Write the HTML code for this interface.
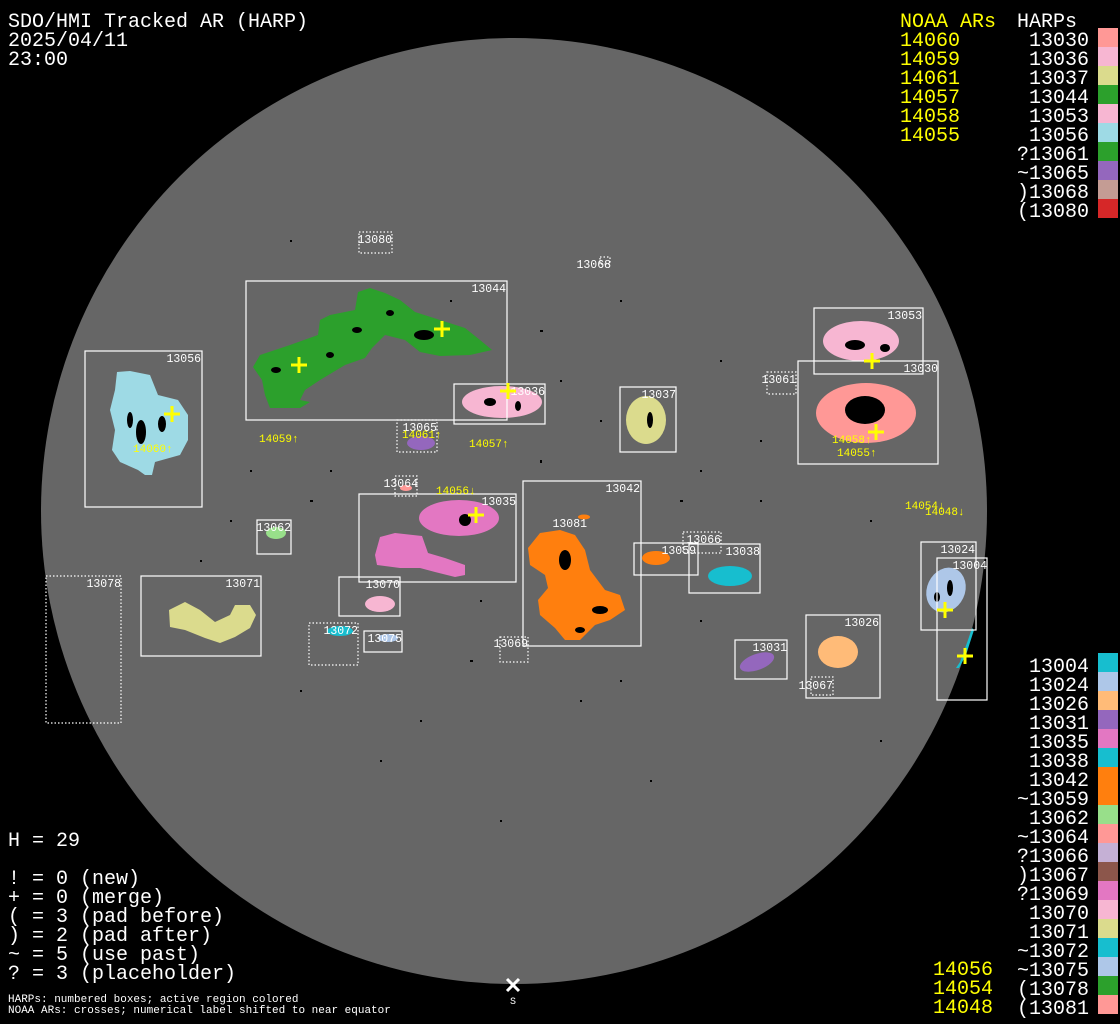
<!DOCTYPE html>
<html><head><meta charset="utf-8"><style>
html,body{margin:0;padding:0;background:#000;width:1120px;height:1024px;overflow:hidden}
svg{display:block}
text{font-family:"Liberation Mono","DejaVu Sans Mono",monospace}
.t{fill:#fff;font-size:20px}
.y{fill:#ffff00;font-size:20px}
.b{fill:#fff;font-size:11.5px}
.n{fill:#ffff00;font-size:11px}
.bx{fill:none;stroke:#fff;stroke-width:1.2}
.dx{fill:none;stroke:#fff;stroke-width:1.2;stroke-dasharray:1.5 2}
.cr{stroke:#ffff00;stroke-width:3}
</style></head><body>
<svg width="1120" height="1024" viewBox="0 0 1120 1024" xmlns="http://www.w3.org/2000/svg">
<rect width="1120" height="1024" fill="#000"/>
<circle cx="514" cy="511" r="473" fill="#666"/>

<!-- speckles -->
<g fill="#000">
<rect x="290" y="240" width="2" height="2"/><rect x="450" y="300" width="2" height="2"/><rect x="600" y="420" width="2" height="2"/>
<rect x="700" y="470" width="2" height="2"/><rect x="330" y="470" width="2" height="2"/><rect x="250" y="470" width="2" height="2"/>
<rect x="480" y="600" width="2" height="2"/><rect x="580" y="700" width="2" height="2"/><rect x="420" y="720" width="2" height="2"/>
<rect x="700" y="620" width="2" height="2"/><rect x="760" y="500" width="2" height="2"/><rect x="620" y="300" width="2" height="2"/>
<rect x="560" y="380" width="2" height="2"/><rect x="200" y="560" width="2" height="2"/><rect x="300" y="690" width="2" height="2"/>
<rect x="650" y="780" width="2" height="2"/><rect x="500" y="820" width="2" height="2"/><rect x="380" y="760" width="2" height="2"/>
<rect x="870" y="520" width="2" height="2"/><rect x="880" y="740" width="2" height="2"/>
<rect x="680" y="500" width="3" height="2"/><rect x="540" y="460" width="2" height="3"/><rect x="310" y="500" width="3" height="2"/>
<rect x="230" y="520" width="2" height="2"/><rect x="470" y="660" width="3" height="2"/><rect x="620" y="680" width="2" height="2"/>
<rect x="760" y="440" width="2" height="2"/><rect x="720" y="360" width="2" height="2"/><rect x="540" y="330" width="3" height="2"/>
</g>

<!-- ARs -->
<path d="M253,367 L260,355 290,345 318,335 320,320 330,315 355,310 358,292 370,288 385,293 400,300 415,312 440,320 465,328 480,340 492,350 470,355 440,356 420,352 405,340 385,335 372,348 365,358 345,365 320,380 305,390 300,400 310,402 300,408 270,408 265,395 262,380Z" fill="#2ca02c"/>
<path d="M117,372 L130,371 150,375 158,395 178,400 188,415 188,440 180,455 155,462 152,475 145,475 138,470 120,462 112,450 115,430 110,410 115,390Z" fill="#9edae5"/>
<ellipse cx="502" cy="402" rx="40" ry="16" fill="#f7b6d2"/>
<ellipse cx="421" cy="443" rx="14" ry="7" fill="#9467bd"/>
<ellipse cx="406" cy="488" rx="6" ry="3" fill="#ff9896"/>
<ellipse cx="459" cy="518" rx="40" ry="18" fill="#e377c2"/>
<path d="M380,537 L395,533 422,536 428,553 445,558 465,565 465,575 455,577 435,572 420,568 400,568 377,565 375,555Z" fill="#e377c2"/>
<ellipse cx="276" cy="533" rx="10" ry="6" fill="#98df8a"/>
<path d="M169,610 L185,602 200,610 215,622 230,615 235,605 250,605 256,615 250,628 235,637 220,643 205,638 185,630 170,627Z" fill="#dbdb8d"/>
<ellipse cx="380" cy="604" rx="15" ry="8" fill="#f7b6d2"/>
<ellipse cx="340" cy="631" rx="13" ry="5" fill="#17becf"/>
<ellipse cx="388" cy="638" rx="10" ry="4" fill="#aec7e8"/>
<path d="M528,548 L540,533 560,530 575,535 585,550 590,570 605,590 620,595 625,610 610,620 595,625 580,640 565,640 555,628 540,615 538,600 548,588 545,575 530,565Z" fill="#ff7f0e"/>
<ellipse cx="584" cy="517" rx="6" ry="2.5" fill="#ff7f0e"/>
<ellipse cx="656" cy="558" rx="14" ry="7" fill="#ff7f0e"/>
<ellipse cx="730" cy="576" rx="22" ry="10" fill="#17becf"/>
<ellipse cx="646" cy="420" rx="20" ry="24" fill="#dbdb8d"/>
<ellipse cx="861" cy="341" rx="38" ry="20" fill="#f7b6d2"/>
<ellipse cx="866" cy="413" rx="50" ry="30" fill="#ff9896"/>
<ellipse cx="757" cy="662" rx="18" ry="8" transform="rotate(-20 757 662)" fill="#9467bd"/>
<ellipse cx="838" cy="652" rx="20" ry="16" fill="#ffbb78"/>
<ellipse cx="946" cy="590" rx="19" ry="23" transform="rotate(25 946 590)" fill="#aec7e8"/>
<path d="M956,668 L960,662 968,640 972,628 974,630 966,655 959,668Z" fill="#17becf"/>

<!-- black spots in ARs -->
<g fill="#000">
<ellipse cx="141" cy="432" rx="5" ry="12"/><ellipse cx="162" cy="424" rx="4" ry="8"/><ellipse cx="130" cy="420" rx="3" ry="8"/>
<ellipse cx="424" cy="335" rx="10" ry="5"/><ellipse cx="276" cy="370" rx="5" ry="3"/><ellipse cx="330" cy="355" rx="4" ry="3"/>
<ellipse cx="357" cy="330" rx="5" ry="3"/><ellipse cx="390" cy="313" rx="4" ry="3"/>
<ellipse cx="490" cy="402" rx="6" ry="4"/><ellipse cx="518" cy="406" rx="3" ry="5"/>
<circle cx="465" cy="520" r="6"/>
<ellipse cx="865" cy="410" rx="20" ry="14"/><ellipse cx="855" cy="345" rx="10" ry="5"/><ellipse cx="885" cy="348" rx="5" ry="4"/>
<ellipse cx="565" cy="560" rx="6" ry="10"/><ellipse cx="600" cy="610" rx="8" ry="4"/><ellipse cx="580" cy="630" rx="5" ry="3"/>
<ellipse cx="950" cy="588" rx="3" ry="8"/><ellipse cx="937" cy="597" rx="3" ry="5"/>
<ellipse cx="650" cy="420" rx="3" ry="8"/>
</g>

<!-- boxes -->
<rect class="bx" x="246" y="281" width="261" height="139"/>
<rect class="bx" x="85" y="351" width="117" height="156"/>
<rect class="bx" x="454" y="384" width="91" height="40"/>
<rect class="dx" x="397" y="420" width="40" height="32"/>
<rect class="dx" x="395" y="476" width="22" height="20"/>
<rect class="bx" x="359" y="494" width="157" height="88"/>
<rect class="bx" x="257" y="520" width="34" height="34"/>
<rect class="dx" x="46" y="576" width="75" height="147"/>
<rect class="bx" x="141" y="576" width="120" height="80"/>
<rect class="bx" x="339" y="577" width="61" height="39"/>
<rect class="dx" x="309" y="623" width="49" height="42"/>
<rect class="bx" x="364" y="631" width="38" height="21"/>
<rect class="dx" x="500" y="637" width="28" height="25"/>
<rect class="bx" x="523" y="481" width="118" height="165"/>
<rect class="bx" x="620" y="387" width="56" height="65"/>
<rect class="bx" x="814" y="308" width="109" height="66"/>
<rect class="bx" x="798" y="361" width="140" height="103"/>
<rect class="dx" x="767" y="372" width="29" height="22"/>
<rect class="bx" x="634" y="543" width="64" height="32"/>
<rect class="dx" x="683" y="532" width="38" height="21"/>
<rect class="bx" x="689" y="544" width="71" height="49"/>
<rect class="bx" x="735" y="640" width="52" height="39"/>
<rect class="bx" x="806" y="615" width="74" height="83"/>
<rect class="dx" x="811" y="677" width="22" height="18"/>
<rect class="bx" x="921" y="542" width="55" height="88"/>
<rect class="bx" x="937" y="558" width="50" height="142"/>
<rect class="dx" x="359" y="232" width="33" height="21"/>
<rect class="dx" x="600" y="257" width="10" height="7"/>

<!-- box labels -->
<g class="b" text-anchor="end">
<text x="506" y="292">13044</text><text x="201" y="362">13056</text><text x="545" y="395">13036</text>
<text x="437" y="431">13065</text><text x="418" y="487">13064</text><text x="516" y="505">13035</text>
<text x="291" y="531">13062</text><text x="121" y="587">13078</text><text x="260" y="587">13071</text>
<text x="400" y="588">13070</text><text x="358" y="634">13072</text><text x="402" y="642">13075</text>
<text x="528" y="647">13069</text><text x="640" y="492">13042</text><text x="676" y="398">13037</text>
<text x="922" y="319">13053</text><text x="938" y="372">13030</text><text x="796" y="383">13061</text>
<text x="696" y="554">13059</text><text x="721" y="543">13066</text><text x="760" y="555">13038</text>
<text x="787" y="651">13031</text><text x="879" y="626">13026</text><text x="833" y="689">13067</text>
<text x="975" y="553">13024</text><text x="987" y="569">13004</text><text x="392" y="243">13080</text>
<text x="611" y="268">13068</text><text x="587" y="527">13081</text>
</g>

<!-- NOAA labels -->
<g class="n">
<text x="259" y="442">14059↑</text><text x="133" y="452">14060↑</text><text x="402" y="438">14061↑</text>
<text x="469" y="447">14057↑</text><text x="436" y="494">14056↓</text><text x="832" y="443">14058↑</text>
<text x="837" y="456">14055↑</text><text x="905" y="509">14054↓</text><text x="925" y="515">14048↓</text>
</g>

<!-- crosses -->
<g class="cr">
<path d="M291,365h16M299,357v16"/><path d="M434,329h16M442,321v16"/><path d="M164,414h16M172,406v16"/>
<path d="M500,391h16M508,383v16"/><path d="M468,515h16M476,507v16"/><path d="M864,361h16M872,353v16"/>
<path d="M868,432h16M876,424v16"/><path d="M937,610h16M945,602v16"/><path d="M957,656h16M965,648v16"/>
</g>

<!-- S marker -->
<path d="M507,979l12,12M519,979l-12,12" stroke="#fff" stroke-width="3"/>
<text x="513" y="1004" class="b" text-anchor="middle" style="font-size:10px">S</text>

<!-- title -->
<text class="t" x="8" y="27">SDO/HMI Tracked AR (HARP)</text>
<text class="t" x="8" y="46">2025/04/11</text>
<text class="t" x="8" y="65">23:00</text>

<!-- top right legend -->
<text class="y" x="900" y="27">NOAA ARs</text>
<text class="t" x="1017" y="27">HARPs</text>
<g class="y"><text x="900" y="46">14060</text><text x="900" y="65">14059</text><text x="900" y="84">14061</text><text x="900" y="103">14057</text><text x="900" y="122">14058</text><text x="900" y="141">14055</text></g>
<g class="t" text-anchor="end">
<text x="1089" y="46">13030</text><text x="1089" y="65">13036</text><text x="1089" y="84">13037</text><text x="1089" y="103">13044</text><text x="1089" y="122">13053</text><text x="1089" y="141">13056</text><text x="1089" y="160">?13061</text><text x="1089" y="179">~13065</text><text x="1089" y="198">)13068</text><text x="1089" y="217">(13080</text>
</g>
<g>
<rect x="1098" y="28" width="20" height="19" fill="#ff9896"/><rect x="1098" y="47" width="20" height="19" fill="#f7b6d2"/><rect x="1098" y="66" width="20" height="19" fill="#dbdb8d"/><rect x="1098" y="85" width="20" height="19" fill="#2ca02c"/><rect x="1098" y="104" width="20" height="19" fill="#f7b6d2"/><rect x="1098" y="123" width="20" height="19" fill="#9edae5"/><rect x="1098" y="142" width="20" height="19" fill="#2ca02c"/><rect x="1098" y="161" width="20" height="19" fill="#9467bd"/><rect x="1098" y="180" width="20" height="19" fill="#c49c94"/><rect x="1098" y="199" width="20" height="19" fill="#d62728"/>
</g>

<!-- bottom right legend -->
<g class="t" text-anchor="end">
<text x="1089" y="672">13004</text><text x="1089" y="691">13024</text><text x="1089" y="710">13026</text><text x="1089" y="729">13031</text><text x="1089" y="748">13035</text><text x="1089" y="767">13038</text><text x="1089" y="786">13042</text><text x="1089" y="805">~13059</text><text x="1089" y="824">13062</text><text x="1089" y="843">~13064</text><text x="1089" y="862">?13066</text><text x="1089" y="881">)13067</text><text x="1089" y="900">?13069</text><text x="1089" y="919">13070</text><text x="1089" y="938">13071</text><text x="1089" y="957">~13072</text><text x="1089" y="976">~13075</text><text x="1089" y="995">(13078</text><text x="1089" y="1014">(13081</text>
</g>
<g>
<rect x="1098" y="653" width="20" height="19" fill="#17becf"/><rect x="1098" y="672" width="20" height="19" fill="#aec7e8"/><rect x="1098" y="691" width="20" height="19" fill="#ffbb78"/><rect x="1098" y="710" width="20" height="19" fill="#9467bd"/><rect x="1098" y="729" width="20" height="19" fill="#e377c2"/><rect x="1098" y="748" width="20" height="19" fill="#17becf"/><rect x="1098" y="767" width="20" height="38" fill="#ff7f0e"/><rect x="1098" y="805" width="20" height="19" fill="#98df8a"/><rect x="1098" y="824" width="20" height="19" fill="#ff9896"/><rect x="1098" y="843" width="20" height="19" fill="#c5b0d5"/><rect x="1098" y="862" width="20" height="19" fill="#8c564b"/><rect x="1098" y="881" width="20" height="19" fill="#e377c2"/><rect x="1098" y="900" width="20" height="19" fill="#f7b6d2"/><rect x="1098" y="919" width="20" height="19" fill="#dbdb8d"/><rect x="1098" y="938" width="20" height="19" fill="#17becf"/><rect x="1098" y="957" width="20" height="19" fill="#aec7e8"/><rect x="1098" y="976" width="20" height="19" fill="#2ca02c"/><rect x="1098" y="995" width="20" height="19" fill="#ff9896"/>
</g>
<g class="y"><text x="933" y="975">14056</text><text x="933" y="994">14054</text><text x="933" y="1013">14048</text></g>

<!-- bottom left -->
<g class="t">
<text x="8" y="846">H = 29</text>
<text x="8" y="884">! = 0 (new)</text>
<text x="8" y="903">+ = 0 (merge)</text>
<text x="8" y="922">( = 3 (pad before)</text>
<text x="8" y="941">) = 2 (pad after)</text>
<text x="8" y="960">~ = 5 (use past)</text>
<text x="8" y="979">? = 3 (placeholder)</text>
</g>
<text x="8" y="1002" class="b" style="font-size:11px">HARPs: numbered boxes; active region colored</text>
<text x="8" y="1013" class="b" style="font-size:11px">NOAA ARs: crosses; numerical label shifted to near equator</text>
</svg>
</body></html>
